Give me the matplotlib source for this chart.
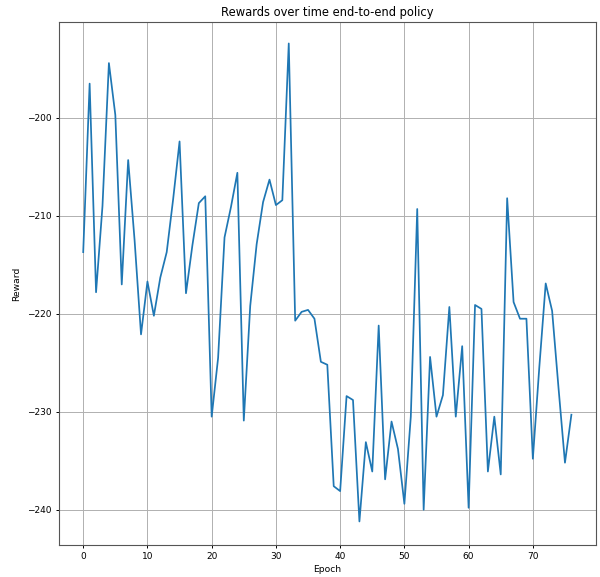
import matplotlib.pyplot as plt

# rewards per epoch
epochs = list(range(77))
rewards = [
    -213.7, -196.5, -217.8, -209.0, -194.4, -199.7, -217.0, -204.3, -212.5, -222.1,
    -216.7, -220.2, -216.3, -213.7, -208.3, -202.4, -217.9, -213.0, -208.7, -208.0,
    -230.5, -224.5, -212.2, -209.1, -205.6, -230.9, -219.2, -212.9, -208.6, -206.3,
    -208.9, -208.4, -192.4, -220.7, -219.8, -219.6, -220.5, -224.9, -225.2, -237.6,
    -238.1, -228.4, -228.8, -241.2, -233.1, -236.1, -221.2, -236.9, -231.0, -233.8,
    -239.4, -230.5, -209.3, -240.0, -224.4, -230.5, -228.3, -219.3, -230.5, -223.3,
    -239.8, -219.1, -219.5, -236.1, -230.5, -236.4, -208.2, -218.8, -220.5, -220.5,
    -234.8, -225.5, -216.9, -219.7, -227.6, -235.2, -230.3,
]

fig = plt.figure(figsize=(6, 5.77), dpi=100)
ax = fig.add_axes([0.098, 0.0555, 0.895, 0.9065])
ax.plot(epochs, rewards, color='#1f77b4', lw=1.25)
ax.set_xlim(-3.8, 79.8)
ax.set_ylim(-243.6, -190.2)
ax.grid(True, color='#b0b0b0', lw=0.7)
ax.set_title("Rewards over time end-to-end policy", fontsize=8.3, pad=4.5)
ax.set_xlabel("Epoch", fontsize=6.6, labelpad=2.5)
ax.set_ylabel("Reward", fontsize=6.6, labelpad=4)
ax.tick_params(labelsize=6.5, length=2.3, width=0.7, pad=3)
for s in ax.spines.values():
    s.set_linewidth(0.8)
    s.set_color('#555555')
fig.savefig("out.png", dpi=100)
